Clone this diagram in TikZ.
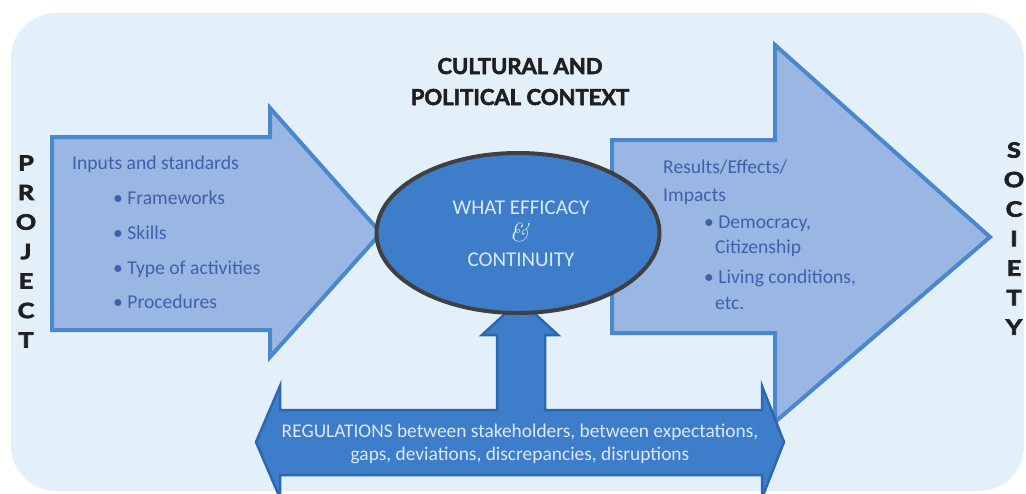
\documentclass[tikz,border=0pt]{standalone}
\usepackage{fontspec}
\setsansfont{Carlito}
\newfontfamily\titlefont[BoldFeatures={FakeBold=2.5}]{Lato}
\newfontfamily\sidefont[BoldFeatures={FakeBold=3.5,FakeStretch=1.2}]{Lato}
\usetikzlibrary{shapes.geometric}
\definecolor{bgblue}{HTML}{E3F0FA}
\definecolor{arrowfill}{HTML}{9AB7E3}
\definecolor{arrowline}{HTML}{4A87CC}
\definecolor{darkfill}{HTML}{3E7DCA}
\definecolor{darkline}{HTML}{2C67B1}
\definecolor{textblue}{HTML}{3F60AC}
\definecolor{lighttext}{HTML}{DCE9F7}
\definecolor{ellline}{HTML}{404040}
\begin{document}
\begin{tikzpicture}[x=1pt,y=-1pt,
  lightarrow/.style={fill=arrowfill,draw=arrowline,line width=4pt,line join=miter},
  darkarrow/.style={fill=darkfill,draw=darkline,line width=2.5pt,line join=miter},
  bodytext/.style={font=\sffamily\fontsize{19.6}{22}\selectfont,text=textblue,inner sep=0pt,anchor=base west},
  coretext/.style={font=\sffamily\fontsize{21}{23}\selectfont,text=lighttext,inner sep=0pt,anchor=base},
  bandtext/.style={font=\sffamily\fontsize{19.4}{21}\selectfont,text=lighttext,inner sep=0pt,anchor=base},
  titletext/.style={font=\titlefont\bfseries\fontsize{22}{24}\selectfont,text=black!88,inner sep=0pt,anchor=base},
  sidetext/.style={font=\sidefont\bfseries\fontsize{21}{29.5}\selectfont,text=black!88,inner sep=0pt,align=center}]
\useasboundingbox (0,0) rectangle (1026,493);
\begin{scope}
\clip (0,0) rectangle (1026,493);
\fill[bgblue,rounded corners=45pt] (11,13) rectangle (1024,491);
% left arrow
\draw[lightarrow] (52,137) -- (270,137) -- (270,108) -- (381,233) -- (270,357) -- (270,330) -- (52,330) -- cycle;
% right arrow
\draw[lightarrow] (612,140) -- (775,140) -- (775,45) -- (990,237) -- (775,422) -- (775,333) -- (612,333) -- cycle;
% T-shaped regulation arrow
\draw[darkarrow] (256,442) -- (280,386) -- (280,410) -- (497,410) -- (497,335) -- (482,335) -- (520,300)
  -- (558,335) -- (545,335) -- (545,410) -- (762,410) -- (762,386) -- (784,442) -- (762,498)
  -- (762,475) -- (280,475) -- (280,498) -- cycle;
\end{scope}
% ellipse
\node[ellipse,draw=ellline,line width=4pt,fill=darkfill,minimum width=283pt,minimum height=160pt] (core) at (518,233) {};
\node[coretext] (what) at (521,214) {WHAT EFFICACY};
\node[coretext] (amp) at (519,241) {{\rmfamily\itshape\fontsize{26}{26}\selectfont\&}};
\node[coretext] (cont) at (521,266) {CONTINUITY};
% title
\node[titletext] (t1) at (520,74) {CULTURAL AND};
\node[titletext] (t2) at (520,105) {POLITICAL CONTEXT};
% side words
\node[sidetext] (project) at (26,251.5) {P\\R\\O\\J\\E\\C\\T};
\node[sidetext] (society) at (1014,238.5) {S\\O\\C\\I\\E\\T\\Y};
% left list
\node[bodytext] (in0) at (72,169) {Inputs and standards};
\node[bodytext] (in1) at (113,204) {• Frameworks};
\node[bodytext] (in2) at (113,239) {• Skills};
\node[bodytext] (in3) at (113,274) {• Type of activities};
\node[bodytext] (in4) at (113,308) {• Procedures};
% right list
\node[bodytext] (out0) at (663,173) {Results/Effects/};
\node[bodytext] (out1) at (663,201) {Impacts};
\node[bodytext] (out2) at (704,228) {• Democracy,};
\node[bodytext] (out3) at (715,253) {Citizenship};
\node[bodytext] (out4) at (704,283) {• Living conditions,};
\node[bodytext] (out5) at (715,309) {etc.};
% band text
\node[bandtext] (reg1) at (520,437) {REGULATIONS between stakeholders, between expectations,};
\node[bandtext] (reg2) at (520,460) {gaps, deviations, discrepancies, disruptions};
\end{tikzpicture}
\end{document}
